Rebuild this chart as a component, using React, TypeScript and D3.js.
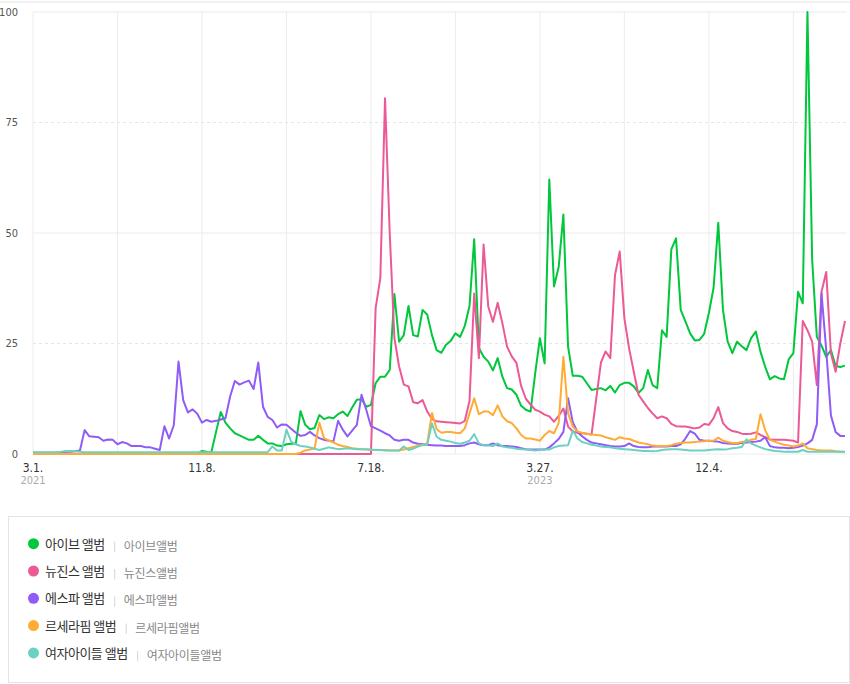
import React, { useEffect, useRef } from "react";
import * as d3 from "d3";

// 주간 검색 추이 (2021-03-01 부터 주 단위)
const START_DATE = new Date(Date.UTC(2021, 2, 1));

const seriesNames = ["아이브 앨범", "뉴진스 앨범", "에스파 앨범", "르세라핌 앨범", "여자아이들 앨범"];
const seriesKeywords = ["아이브앨범", "뉴진스앨범", "에스파앨범", "르세라핌앨범", "여자아이들앨범"];
const seriesColors = ["#00c73c", "#ec5a95", "#8f5cf6", "#ffab34", "#6dd1c1"];

// prettier-ignore
const iveValues = [
  0, 0, 0, 0, 0, 0, 0, 0, 0, 0,
  0, 0, 0, 0, 0, 0, 0, 0, 0, 0,
  0, 0, 0, 0, 0, 0, 0, 0, 0, 0,
  0, 0, 0, 0, 0, 0, 0.7, 0.5, 0.4, 5.0,
  9.5, 7.1, 5.8, 4.7, 4.2, 3.7, 3.2, 3.2, 4.1, 3.2,
  2.4, 2.4, 1.9, 1.8, 2.2, 2.3, 2.4, 9.7, 6.6, 5.6,
  5.9, 8.8, 7.9, 8.3, 8.1, 9.0, 9.6, 8.6, 10.5, 12.3,
  12.4, 10.7, 11.1, 16.0, 17.5, 17.5, 19.0, 36.2, 25.4, 26.9,
  33.5, 26.9, 26.6, 32.6, 31.5, 26.9, 23.5, 22.9, 24.7, 25.6,
  27.3, 26.5, 29.0, 33.5, 48.6, 24.0, 22.0, 20.9, 18.9, 21.7,
  17.5, 14.9, 14.6, 13.4, 10.9, 10.0, 9.6, 18.3, 26.2, 20.5,
  62.1, 37.9, 42.3, 54.2, 24.3, 17.7, 17.7, 17.5, 16.0, 14.5,
  14.7, 14.9, 14.4, 15.4, 13.9, 15.6, 16.1, 16.1, 15.3, 13.8,
  14.9, 19.0, 15.6, 14.9, 28.0, 26.5, 46.3, 48.8, 32.6, 30.0,
  27.3, 25.7, 25.8, 27.2, 31.9, 37.6, 52.3, 32.6, 25.4, 22.8,
  25.4, 24.4, 23.5, 26.2, 27.7, 23.1, 19.7, 16.9, 17.6, 17.1,
  16.9, 21.4, 22.8, 36.7, 34.1, 100, 44.0, 26.5, 24.5, 22.0,
  23.5, 19.9, 19.7, 20.0,
];

// prettier-ignore
const newjeansValues = [
  0, 0, 0, 0, 0, 0, 0, 0, 0, 0,
  0, 0, 0, 0, 0, 0, 0, 0, 0, 0,
  0, 0, 0, 0, 0, 0, 0, 0, 0, 0,
  0, 0, 0, 0, 0, 0, 0, 0, 0, 0,
  0, 0, 0, 0, 0, 0, 0, 0, 0, 0,
  0, 0, 0, 0, 0, 0, 0, 0, 0, 0,
  0, 0, 0, 0, 0, 0, 0, 0, 0, 0,
  0, 0, 0, 33.0, 39.8, 80.5, 50.0, 26.2, 19.8, 15.7,
  15.3, 11.7, 11.5, 12.2, 9.6, 7.9, 7.4, 7.3, 7.2, 7.1,
  7.0, 6.9, 7.5, 12.0, 36.3, 21.7, 47.4, 33.3, 29.9, 34.2,
  29.6, 24.3, 22.1, 20.6, 15.4, 12.5, 11.2, 10.0, 9.6, 8.9,
  8.5, 7.3, 8.6, 10.3, 6.2, 5.1, 4.8, 4.7, 4.6, 4.4,
  12.5, 20.7, 23.2, 21.7, 40.5, 45.8, 30.7, 23.9, 18.6, 13.4,
  11.9, 10.4, 9.2, 8.1, 8.5, 8.1, 6.8, 6.3, 6.2, 6.2,
  6.0, 5.8, 6.0, 6.8, 6.6, 8.1, 10.6, 7.0, 5.8, 5.2,
  5.0, 4.6, 4.5, 4.6, 4.9, 4.3, 3.8, 3.3, 3.2, 3.2,
  3.2, 3.1, 3.0, 2.6, 30.1, 28.0, 25.4, 15.6, 36.7, 41.2,
  22.8, 18.6, 25.0, 30.1,
];

// prettier-ignore
const aespaValues = [
  0.3, 0.3, 0.3, 0.3, 0.3, 0.3, 0.3, 0.5, 0.5, 0.6,
  0.8, 5.4, 4.0, 3.9, 3.8, 3.0, 3.3, 3.2, 2.2, 2.7,
  2.4, 1.8, 1.8, 1.8, 1.5, 1.5, 1.2, 0.9, 6.3, 3.5,
  6.5, 20.9, 12.2, 9.4, 10.1, 9.1, 7.1, 7.7, 7.3, 7.5,
  7.8, 8.1, 13.0, 16.5, 15.7, 16.2, 16.6, 14.7, 20.7, 10.7,
  8.4, 7.7, 6.0, 6.7, 6.6, 5.7, 4.8, 4.1, 4.3, 5.0,
  4.2, 3.6, 3.2, 3.0, 2.8, 7.5, 5.5, 4.0, 5.3, 6.6,
  13.4, 10.0, 6.3, 5.8, 5.3, 4.7, 4.2, 3.2, 3.0, 3.2,
  3.2, 2.6, 2.3, 2.2, 2.1, 2.0, 1.9, 1.9, 1.8, 1.8,
  1.8, 1.8, 2.0, 2.4, 2.6, 2.2, 2.0, 2.0, 2.4, 2.0,
  1.8, 1.8, 1.7, 1.6, 1.3, 1.1, 1.0, 1.0, 1.0, 1.0,
  1.5, 2.4, 3.4, 5.0, 12.6, 7.2, 5.0, 4.0, 3.2, 2.6,
  2.4, 2.2, 2.0, 1.8, 1.7, 1.7, 1.8, 2.4, 1.8, 1.6,
  1.5, 1.5, 1.7, 1.7, 1.7, 1.7, 1.8, 1.8, 2.2, 3.5,
  5.2, 4.6, 3.2, 3.0, 3.0, 2.9, 2.8, 2.5, 2.4, 2.3,
  2.3, 2.5, 2.6, 2.7, 2.8, 3.0, 3.8, 1.8, 1.5, 1.4,
  1.4, 1.3, 1.4, 1.6, 1.9, 2.4, 3.2, 6.7, 36.3, 23.5,
  8.7, 5.0, 4.1, 4.1,
];

// prettier-ignore
const lesserafimValues = [
  0, 0, 0, 0, 0, 0, 0, 0, 0, 0,
  0, 0, 0, 0, 0, 0, 0, 0, 0, 0,
  0, 0, 0, 0, 0, 0, 0, 0, 0, 0,
  0, 0, 0, 0, 0, 0, 0, 0, 0, 0,
  0, 0, 0, 0, 0, 0, 0, 0, 0, 0,
  0, 0, 0, 0, 0, 0, 0, 0.3, 0.8, 1.0,
  1.3, 7.1, 3.6, 3.1, 2.6, 2.1, 1.8, 1.6, 1.3, 1.2,
  1.1, 1.0, 0.9, 0.9, 0.9, 0.9, 0.8, 0.8, 0.8, 1.0,
  1.3, 1.6, 1.9, 2.1, 2.4, 9.3, 5.6, 4.8, 5.0, 5.0,
  4.8, 4.7, 5.8, 9.2, 12.6, 9.0, 9.6, 9.6, 8.8, 11.0,
  8.5, 7.4, 7.0, 5.8, 4.3, 3.5, 3.5, 3.3, 3.0, 4.3,
  5.2, 4.7, 7.0, 22.0, 9.2, 6.2, 5.1, 4.8, 4.6, 4.4,
  4.3, 4.2, 3.8, 3.5, 3.2, 3.8, 3.5, 3.4, 3.0, 2.6,
  2.4, 2.2, 1.9, 1.8, 1.8, 1.8, 2.0, 2.3, 2.5, 2.6,
  2.6, 2.7, 2.8, 2.9, 3.0, 3.0, 3.7, 3.0, 2.7, 2.5,
  2.5, 2.7, 2.9, 3.2, 3.4, 9.0, 5.4, 3.2, 2.8, 2.4,
  2.1, 1.9, 1.7, 1.9, 2.4, 1.3, 1.1, 0.9, 0.8, 0.8,
  0.8, 0.6, 0.5, 0.5,
];

// prettier-ignore
const gidleValues = [
  0.4, 0.4, 0.4, 0.4, 0.4, 0.4, 0.5, 0.7, 0.7, 0.6,
  0.5, 0.4, 0.4, 0.4, 0.4, 0.4, 0.4, 0.4, 0.4, 0.4,
  0.4, 0.4, 0.4, 0.4, 0.4, 0.4, 0.4, 0.4, 0.4, 0.4,
  0.4, 0.4, 0.4, 0.4, 0.4, 0.4, 0.4, 0.4, 0.4, 0.4,
  0.4, 0.4, 0.4, 0.4, 0.4, 0.4, 0.4, 0.4, 0.4, 0.4,
  0.4, 1.7, 0.8, 0.8, 5.5, 2.8, 2.2, 1.8, 1.7, 1.5,
  1.2, 0.9, 1.2, 1.5, 1.3, 1.1, 1.2, 1.3, 1.2, 1.1,
  1.1, 1.1, 1.0, 0.9, 0.9, 0.8, 0.8, 0.8, 0.8, 1.7,
  0.9, 1.2, 1.7, 2.0, 2.2, 6.9, 3.9, 3.2, 3.0, 2.8,
  2.5, 2.3, 2.6, 3.0, 4.5, 2.4, 2.0, 1.9, 1.8, 2.4,
  1.7, 1.5, 1.4, 1.2, 1.1, 1.0, 0.9, 0.8, 0.9, 1.0,
  1.0, 1.5, 1.8, 1.9, 2.0, 5.3, 3.5, 2.7, 2.4, 2.1,
  1.9, 1.7, 1.6, 1.5, 1.3, 1.2, 1.1, 1.0, 0.9, 0.8,
  0.7, 0.7, 0.6, 0.7, 0.9, 1.0, 1.1, 1.1, 1.0, 0.9,
  0.8, 0.8, 0.8, 0.8, 0.9, 1.0, 1.1, 1.0, 1.1, 1.3,
  1.4, 1.6, 3.3, 2.4, 1.9, 1.5, 1.1, 0.9, 0.7, 0.6,
  0.5, 0.5, 0.5, 0.5, 0.9, 0.5, 0.5, 0.5, 0.5, 0.5,
  0.5, 0.5, 0.5, 0.5,
];

const seriesValues = [iveValues, newjeansValues, aespaValues, lesserafimValues, gidleValues];

const yTicks = [0, 25, 50, 75, 100];
const xTickDates = ["2021-03-01", "2021-11-08", "2022-07-18", "2023-03-27", "2023-12-04"];
const xTickLabels = ["3.1.", "11.8.", "7.18.", "3.27.", "12.4."];
const xTickYears = ["2021", "", "", "2023", ""];

const WIDTH = 850;
const HEIGHT = 684;

const App: React.FC = () => {
  const svgRef = useRef<SVGSVGElement>(null);

  useEffect(() => {
    if (!svgRef.current) return;
    const svg = d3.select(svgRef.current);
    svg.selectAll("*").remove();

    const numFont = "'Liberation Sans Narrow', 'DejaVu Sans Condensed', Roboto, sans-serif";
    const krFont = "'Noto Sans CJK KR', 'Noto Sans', sans-serif";

    const weekCount = iveValues.length;
    const dates = d3.range(weekCount).map((i) => d3.utcDay.offset(START_DATE, i * 7));
    const parse = d3.utcParse("%Y-%m-%d");

    const x = d3
      .scaleUtc()
      .domain([dates[0], dates[weekCount - 1]])
      .range([33, 845]);
    const y = d3.scaleLinear().domain([0, 100]).range([454, 12]);

    // 상단 경계선
    svg
      .append("line")
      .attr("x1", 0)
      .attr("x2", WIDTH)
      .attr("y1", 2)
      .attr("y2", 2)
      .attr("stroke", "#e3e3e3");

    // 세로 그리드 (18주 간격)
    const grid = svg.append("g");
    d3.range(0, weekCount, 18).forEach((i) => {
      grid
        .append("line")
        .attr("x1", x(dates[i]))
        .attr("x2", x(dates[i]))
        .attr("y1", y(100))
        .attr("y2", y(0))
        .attr("stroke", "#ececec");
    });

    // 가로 그리드
    yTicks.forEach((t) => {
      grid
        .append("line")
        .attr("x1", 33)
        .attr("x2", 847)
        .attr("y1", y(t))
        .attr("y2", y(t))
        .attr("stroke", t % 50 === 0 ? "#ebebeb" : "#e6e6e6")
        .attr("stroke-dasharray", t % 50 === 0 ? null : "3,3");
      svg
        .append("text")
        .attr("x", 18)
        .attr("y", y(t))
        .attr("dy", "0.35em")
        .attr("text-anchor", "end")
        .style("font-family", numFont)
        .style("font-size", "11px")
        .style("fill", "#555")
        .text(t);
    });

    // x축 레이블
    xTickDates.forEach((d, k) => {
      const px = x(parse(d) as Date);
      svg
        .append("text")
        .attr("x", px)
        .attr("y", 472)
        .attr("text-anchor", "middle")
        .style("font-family", numFont)
        .style("font-size", "12px")
        .style("fill", "#333")
        .text(xTickLabels[k]);
      if (xTickYears[k]) {
        svg
          .append("text")
          .attr("x", px)
          .attr("y", 484)
          .attr("text-anchor", "middle")
          .style("font-family", numFont)
          .style("font-size", "11px")
          .style("fill", "#aaa")
          .text(xTickYears[k]);
      }
    });

    // 라인
    const line = d3
      .line<number>()
      .x((_, i) => x(dates[i]))
      .y((v) => y(v));

    seriesValues.forEach((vals, s) => {
      svg
        .append("path")
        .datum(vals)
        .attr("d", line)
        .attr("fill", "none")
        .attr("stroke", seriesColors[s])
        .attr("stroke-width", 2)
        .attr("stroke-linejoin", "round");
    });

    // 범례 박스
    svg
      .append("rect")
      .attr("x", 8.5)
      .attr("y", 516.5)
      .attr("width", 841)
      .attr("height", 166)
      .attr("fill", "#fff")
      .attr("stroke", "#e4e4e4");

    seriesNames.forEach((name, s) => {
      const cy = 543.7 + s * 27.3;
      const g = svg.append("g");
      g.append("circle").attr("cx", 33.5).attr("cy", cy).attr("r", 5.5).attr("fill", seriesColors[s]);
      const label = g
        .append("text")
        .attr("x", 45)
        .attr("y", cy + 5)
        .style("font-family", krFont)
        .style("font-size", "13px")
        .style("letter-spacing", "-0.5px")
        .style("fill", "#333")
        .text(name);
      const w = (label.node() as SVGTextElement).getComputedTextLength();
      const sepX = 45 + w + 10;
      g.append("line")
        .attr("x1", sepX)
        .attr("x2", sepX)
        .attr("y1", cy - 2)
        .attr("y2", cy + 8.5)
        .attr("stroke", "#d5d5d5");
      g.append("text")
        .attr("x", sepX + 9)
        .attr("y", cy + 7)
        .style("font-family", krFont)
        .style("font-size", "12px")
        .style("letter-spacing", "-0.3px")
        .style("fill", "#888")
        .text(seriesKeywords[s]);
    });
  }, []);

  return (
    <div style={{ position: "absolute", left: 0, top: 0, width: WIDTH, height: HEIGHT, background: "#fff" }}>
      <svg ref={svgRef} width={WIDTH} height={HEIGHT} style={{ display: "block" }} />
    </div>
  );
};

export default App;
